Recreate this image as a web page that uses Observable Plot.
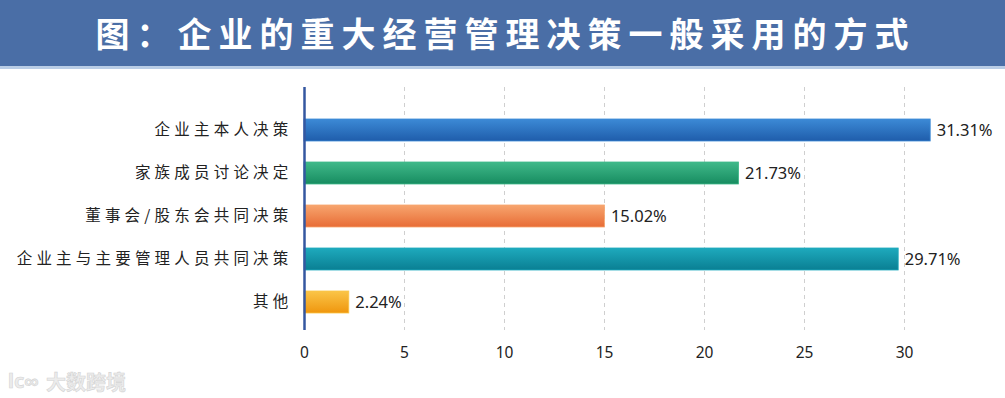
<!DOCTYPE html>
<html>
<head>
<meta charset="utf-8">
<script src="https://cdn.jsdelivr.net/npm/d3@7"></script>
<script src="https://cdn.jsdelivr.net/npm/@observablehq/plot@0.6"></script>
<style>
  html, body { margin: 0; padding: 0; background: #fff; width: 1005px; height: 398px; overflow: hidden; }
  #title {
    height: 66px; background: #4a6ea6; border-bottom: 3px solid #b9cde6;
    color: #fff; font-family: "Noto Sans CJK SC", sans-serif; font-weight: 700;
    font-size: 34px; letter-spacing: 7px; text-align: center; line-height: 66px;
    padding-left: 6px; box-sizing: content-box;
  }
  #chart { position: relative; }
  #wm { position: absolute; left: 46px; top: 298px; font-family: "Noto Sans CJK SC", sans-serif;
        font-size: 20px; color: #ececec; font-weight: 700; -webkit-text-stroke: 0.6px #d4d4d4; }
  #wm2 { position: absolute; left: 8px; top: 298px; font-family: "Noto Sans", sans-serif;
        font-size: 20px; color: #ececec; font-weight: 700; -webkit-text-stroke: 0.6px #d4d4d4; }
</style>
</head>
<body>
<div id="title"></div>
<div id="chart"><span id="wm2">lc∞</span><span id="wm">大数跨境</span></div>
<script>
const titleText = "图：企业的重大经营管理决策一般采用的方式";
document.getElementById("title").textContent = titleText;

const categories = ["企业主本人决策", "家族成员讨论决定", "董事会/股东会共同决策", "企业主与主要管理人员共同决策", "其他"];
const values = [31.31, 21.73, 15.02, 29.71, 2.24];
const valueLabels = ["31.31%", "21.73%", "15.02%", "29.71%", "2.24%"];
const xTicks = [0, 5, 10, 15, 20, 25, 30];
const gradients = [
  ["#3c8ad6", "#1f5dab"],
  ["#40b98a", "#178c60"],
  ["#f7a56e", "#e86c36"],
  ["#1eaabd", "#0a7f93"],
  ["#fac548", "#ef960e"]
];

const data = categories.map((c, i) => ({cat: c, v: values[i], label: valueLabels[i], g: `url(#g${i})`}));

const plot = Plot.plot({
  width: 1005,
  height: 329,
  marginLeft: 304,
  marginRight: 1,
  marginTop: 26,
  marginBottom: 62,
  style: {fontFamily: "'Noto Sans', 'Noto Sans CJK SC', sans-serif", background: "transparent"},
  x: {domain: [0, 35], ticks: xTicks, label: null},
  y: {domain: categories, padding: 0.5, label: null},
  marks: [
    Plot.ruleX(xTicks.filter(t => t > 0), {stroke: "#cfcfcf", strokeDasharray: "4,4", strokeWidth: 1, insetTop: -8, insetBottom: 6}),
    Plot.barX(data, {y: "cat", x: "v", fill: "g", stroke: (d, i) => gradients[i][0], strokeWidth: 0.8}),
    Plot.text(data, {y: "cat", x: "v", text: "label", textAnchor: "start", dx: 6, fontSize: 16.5, fill: "#222", fontFamily: "'Noto Sans', sans-serif"}),
    Plot.ruleX([0], {stroke: "#3457a0", strokeWidth: 2.5, insetTop: -8, insetBottom: 6}),
    Plot.axisX({ticks: xTicks, tickSize: 0, tickPadding: 10, fontSize: 15.5, color: "#222", label: null}),
    Plot.axisY({tickSize: 0, tickPadding: 12, fontSize: 15.5, color: "#222", label: null, fontFamily: "'Noto Sans CJK SC', sans-serif"})
  ]
});

const svg = d3.select(plot);
const defs = svg.insert("defs", ":first-child");
gradients.forEach((g, i) => {
  const lg = defs.append("linearGradient").attr("id", `g${i}`).attr("x1", 0).attr("y1", 0).attr("x2", 0).attr("y2", 1);
  lg.append("stop").attr("offset", "0%").attr("stop-color", g[0]);
  lg.append("stop").attr("offset", "100%").attr("stop-color", g[1]);
});
svg.selectAll("g[aria-label='y-axis tick label'] text").style("letter-spacing", "4.2px");
document.getElementById("chart").prepend(plot);
</script>
</body>
</html>
